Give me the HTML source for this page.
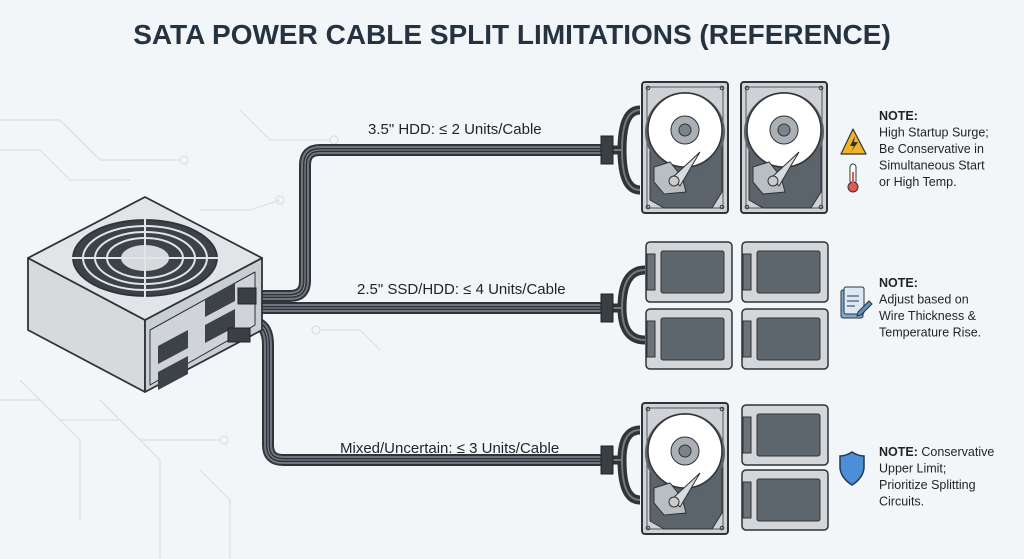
<!DOCTYPE html>
<html><head><meta charset="utf-8"><style>
html,body{margin:0;padding:0;background:#f3f6f8;}
svg{display:block}
text{font-family:"Liberation Sans",sans-serif;}
</style></head><body>
<svg width="1024" height="559" viewBox="0 0 1024 559" xmlns="http://www.w3.org/2000/svg">
<defs>
<g id="hdd">
 <rect x="0" y="0" width="86" height="131" rx="3" fill="#cfd3d7" stroke="#2e3338" stroke-width="2"/>
 <rect x="5" y="5" width="76" height="121" rx="2" fill="none" stroke="#555" stroke-width="1"/>
 <path d="M8 60 L8 118 L22 126 L70 126 L80 110 L80 60 Z" fill="#5b636b" stroke="#333" stroke-width="1"/>
 <circle cx="43" cy="50" r="40" fill="#5b636b"/>
 <circle cx="43" cy="48" r="37" fill="#fff" stroke="#333" stroke-width="1.5"/>
 <circle cx="43" cy="48" r="14" fill="#aab0b5" stroke="#333"/>
 <circle cx="43" cy="48" r="6" fill="#7c848b" stroke="#333"/>
 <path d="M12 85 L28 80 L40 95 L44 110 L22 112 L12 100 Z" fill="#b9bec3" stroke="#333"/>
 <path d="M30 96 L58 70 L38 104 Z" fill="#d8dcdf" stroke="#333"/>
 <circle cx="32" cy="99" r="5" fill="#ccc" stroke="#333"/>
 <circle cx="6" cy="6" r="1.8" fill="none" stroke="#333"/><circle cx="80" cy="6" r="1.8" fill="none" stroke="#333"/>
 <circle cx="6" cy="125" r="1.8" fill="none" stroke="#333"/><circle cx="80" cy="125" r="1.8" fill="none" stroke="#333"/>
</g>
<g id="ssd">
 <rect x="0" y="0" width="86" height="60" rx="4" fill="#d3d7da" stroke="#2e3338" stroke-width="1.5"/>
 <rect x="1" y="12" width="8" height="36" fill="#6b737a" stroke="#333" stroke-width="1"/>
 <rect x="15" y="9" width="63" height="42" rx="2" fill="#5f676e" stroke="#333"/>
</g>
<g id="conn">
 <rect x="-5" y="-14" width="12" height="28" fill="#3a3f45" stroke="#222"/>
</g>
</defs>

<g stroke="#dde3e8" stroke-width="1.5" fill="none">
 <path d="M0 120 L60 120 L100 160 L180 160"/><circle cx="184" cy="160" r="4"/>
 <path d="M0 150 L40 150 L70 180 L130 180"/>
 <path d="M240 110 L270 140 L330 140"/><circle cx="334" cy="140" r="4"/>
 <path d="M0 400 L40 400 L80 440 L80 520"/>
 <path d="M20 380 L60 420 L120 420 L160 460 L160 559"/>
 <path d="M100 400 L140 440 L220 440"/><circle cx="224" cy="440" r="4"/>
 <path d="M200 210 L250 210 L280 200"/><circle cx="280" cy="200" r="4"/>
 <path d="M320 330 L360 330 L380 350"/><circle cx="316" cy="330" r="4"/>
 <path d="M200 470 L230 500 L230 559"/>
</g>

<text x="512" y="44" text-anchor="middle" font-size="28" font-weight="bold" fill="#253240">SATA POWER CABLE SPLIT LIMITATIONS (REFERENCE)</text>

<g fill="none" stroke-linecap="round">
 <g id="cabs">
 <path d="M255 296 L290 296 Q305 296 305 281 L305 165 Q305 150 320 150 L605 150"/>
 <path d="M255 308 L605 308"/>
 <path d="M250 322 Q268 322 268 345 L268 445 Q268 460 283 460 L605 460"/>
 </g>
</g>
<use href="#cabs" stroke="#2f3439" stroke-width="12" fill="none"/>
<use href="#cabs" stroke="#6e757c" stroke-width="8" fill="none"/>
<use href="#cabs" stroke="#2f3439" stroke-width="4" fill="none"/>
<use href="#cabs" stroke="#8a9197" stroke-width="1" fill="none"/>

<g fill="none" stroke="#2f3439" stroke-width="9">
 <path d="M612 150 L622 150 Q622 110 640 110"/><path d="M612 150 L622 150 Q622 190 640 190"/>
 <path d="M612 308 L622 308 Q622 270 645 270"/><path d="M612 308 L622 308 Q622 340 645 340"/>
 <path d="M612 460 L622 460 Q622 430 640 430"/><path d="M612 460 L622 460 Q622 500 640 500"/>
</g>
<g fill="none" stroke="#777" stroke-width="2">
 <path d="M612 150 L622 150 Q622 110 640 110"/><path d="M612 150 L622 150 Q622 190 640 190"/>
 <path d="M612 308 L622 308 Q622 270 645 270"/><path d="M612 308 L622 308 Q622 340 645 340"/>
 <path d="M612 460 L622 460 Q622 430 640 430"/><path d="M612 460 L622 460 Q622 500 640 500"/>
</g>
<use href="#conn" x="606" y="150"/><use href="#conn" x="606" y="308"/><use href="#conn" x="606" y="460"/>

<use href="#hdd" x="642" y="82"/><use href="#hdd" x="741" y="82"/>
<use href="#ssd" x="646" y="242"/><use href="#ssd" x="742" y="242"/>
<use href="#ssd" x="646" y="309"/><use href="#ssd" x="742" y="309"/>
<use href="#hdd" x="642" y="403"/>
<use href="#ssd" x="742" y="405"/><use href="#ssd" x="742" y="470"/>

<g stroke="#2e3338" stroke-width="1.8" stroke-linejoin="round">
 <polygon points="28,258 145,320 145,392 28,330" fill="#d6dadd"/>
 <polygon points="145,320 262,258 262,330 145,392" fill="#c9ced2"/>
 <polygon points="28,258 145,197 262,258 145,320" fill="#e2e5e8"/>
 <polygon points="150,330 255,272 255,325 150,385" fill="#d0d4d8" stroke-width="1"/>
 <ellipse cx="145" cy="258" rx="72" ry="38" fill="#3c4248"/>
</g>
<g fill="none" stroke="#e2e5e8" stroke-width="2">
 <ellipse cx="145" cy="258" rx="62" ry="32"/>
 <ellipse cx="145" cy="258" rx="50" ry="26"/>
 <ellipse cx="145" cy="258" rx="38" ry="20"/>
</g>
<ellipse cx="145" cy="258" rx="24" ry="13" fill="#d6dadd"/>
<g stroke="#e2e5e8" stroke-width="2"><line x1="145" y1="212" x2="145" y2="304"/><line x1="60" y1="258" x2="230" y2="258"/></g>
<g fill="#3c4248">
 <rect x="158" y="330" width="30" height="18" transform="skewY(-28) translate(0,100)"/>
 <rect x="158" y="356" width="30" height="18" transform="skewY(-28) translate(0,100)"/>
 <rect x="205" y="308" width="30" height="18" transform="skewY(-28) translate(0,100)"/>
 <rect x="205" y="334" width="30" height="18" transform="skewY(-28) translate(0,100)"/>
</g>
<rect x="238" y="288" width="18" height="16" fill="#3a3f45" stroke="#222"/>
<rect x="228" y="328" width="22" height="14" fill="#3a3f45" stroke="#222"/>

<g font-size="15" fill="#1e2327">
 <text x="368" y="134">3.5" HDD: ≤ 2 Units/Cable</text>
 <text x="357" y="294">2.5" SSD/HDD: ≤ 4 Units/Cable</text>
 <text x="340" y="453">Mixed/Uncertain: ≤ 3 Units/Cable</text>
</g>

<g font-size="12.5" fill="#1e2327">
 <text x="879" y="120"><tspan font-weight="bold">NOTE:</tspan><tspan x="879" dy="16.5">High Startup Surge;</tspan><tspan x="879" dy="16.5">Be Conservative in</tspan><tspan x="879" dy="16.5">Simultaneous Start</tspan><tspan x="879" dy="16.5">or High Temp.</tspan></text>
 <text x="879" y="287"><tspan font-weight="bold">NOTE:</tspan><tspan x="879" dy="16.5">Adjust based on</tspan><tspan x="879" dy="16.5">Wire Thickness &amp;</tspan><tspan x="879" dy="16.5">Temperature Rise.</tspan></text>
 <text x="879" y="456"><tspan font-weight="bold">NOTE:</tspan> Conservative<tspan x="879" dy="16.5">Upper Limit;</tspan><tspan x="879" dy="16.5">Prioritize Splitting</tspan><tspan x="879" dy="16.5">Circuits.</tspan></text>
</g>
<polygon points="853,129 841,154 866,154" fill="#f0b429" stroke="#333" stroke-width="1.2" stroke-linejoin="round"/>
<path d="M855 136 L850 146 L854 146 L851 152 L858 142 L854 142 Z" fill="#333"/>
<rect x="850" y="164" width="6" height="20" rx="3" fill="#fff" stroke="#333"/>
<circle cx="853" cy="187" r="5" fill="#e05a4f" stroke="#333"/>
<rect x="852" y="172" width="2" height="14" fill="#e05a4f"/>
<rect x="841" y="290" width="22" height="28" rx="2" fill="#7aa9d8" stroke="#333"/>
<rect x="844" y="287" width="20" height="27" rx="2" fill="#dbe9f6" stroke="#333"/>
<g stroke="#333"><line x1="847" y1="296" x2="859" y2="296"/><line x1="847" y1="301" x2="859" y2="301"/><line x1="847" y1="306" x2="855" y2="306"/></g>
<path d="M858 312 L869 301 L872 304 L861 315 L857 316 Z" fill="#5b8fc9" stroke="#333"/>
<path d="M852 452 Q846 456 840 456 L840 468 Q841 478 852 485 Q863 478 864 468 L864 456 Q858 456 852 452 Z" fill="#4d8fd6" stroke="#1e3c5a" stroke-width="1.5"/>
</svg>
</body></html>
